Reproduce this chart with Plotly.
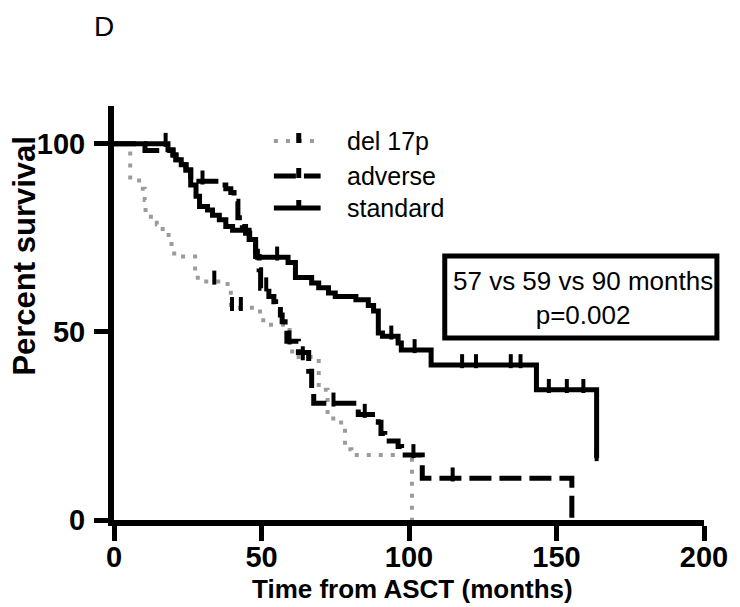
import numpy as np
import plotly.graph_objects as go

# ---------------- data ----------------
del17p_t = [0, 5.5, 8.5, 10.4, 10.7, 12.5, 14.5, 16.5, 18.5, 19.5, 20.4, 27.5, 28.4,
            38.5, 39.6, 49.5, 50.6, 59.5, 60.4, 69.4, 72.4, 75.2, 78.3, 80.5, 101]
del17p_s = [100, 91, 88, 85, 81.7, 80, 78.5, 76.7, 75, 72.7, 70, 66, 63.4,
            62, 56.4, 54.3, 51.9, 46.1, 43.3, 34.6, 27, 25.9, 18.8, 17.3, 0]
del17p_cens = [34, 40, 43, 64]

adverse_t = [0, 10.5, 20, 21, 22.8, 24.4, 26, 35.7, 37.9, 39.6, 40.7, 42, 43.5, 44.6,
             46, 48, 49.2, 49.7, 52.5, 54.2, 54.8, 56.4, 57, 58, 58.6, 62.5, 66, 67,
             67.7, 82.8, 89.6, 90.5, 91.8, 96.3, 97.5, 104.5, 155.2]
adverse_s = [100, 98.2, 97, 95.7, 94.4, 93, 90, 89, 88, 87, 84.7, 80.3, 78, 76.2,
             73.6, 70, 66.5, 61.6, 59.4, 58, 55.9, 54.5, 52.7, 51, 47.5, 44.5, 39.5, 34.6,
             31, 28, 26, 23, 21, 19.5, 17.3, 11.1, 0]
adverse_cens = [30, 51.6, 59.5, 74.4, 85, 101.5, 114.8]

standard_t = [0, 18.3, 20, 21, 22.8, 24.4, 26, 27.8, 29, 31.7, 33.4, 35.7, 37.9, 40.2,
              45.8, 48, 48.6, 59, 61.5, 67, 69.4, 72.7, 75, 82, 86.2, 88, 89.6, 91,
              96.3, 97.4, 107.5, 143.2, 163.6]
standard_s = [100, 98.4, 97, 95.7, 94.4, 93, 89, 86, 83.3, 82.4, 81, 79.8, 78, 77,
              74.5, 71.4, 69.8, 68.4, 64.4, 63, 61.7, 60.3, 59.4, 58.5, 57, 55.5, 49.7, 48.8,
              47, 45.2, 41.2, 34.6, 16.5]
standard_cens = [17.5, 55.3, 94, 101.9, 118, 122.7, 134.5, 137.8, 147.4, 153.5, 159.1, 163.6]

group_names = ["del 17p", "adverse", "standard"]
x_ticks = [0, 50, 100, 150, 200]
y_ticks = [0, 50, 100]
stats_text = "57 vs 59 vs 90 months<br>p=0.002"
panel_label = "D"
x_title = "Time from ASCT (months)"
y_title = "Percent survival"

FONT = "Liberation Sans, Arial, Helvetica, sans-serif"
GRAY = "#9b9b9b"

def surv_at(ts, ss, t):
    i = np.searchsorted(np.asarray(ts), t, side="right") - 1
    return ss[max(i, 0)]

styles = [(GRAY, "4px,8px", 4), ("black", "22px,8px", 5), ("black", "solid", 5)]
series = [(del17p_t, del17p_s, del17p_cens), (adverse_t, adverse_s, adverse_cens),
          (standard_t, standard_s, standard_cens)]

fig = go.Figure()
for (ts, ss, cens), (col, dash, w) in zip(series, styles):
    fig.add_trace(go.Scatter(x=ts, y=ss, mode="lines", line=dict(shape="hv", color=col, width=w, dash=dash),
                             showlegend=False, hoverinfo="skip"))
    cy = [surv_at(ts, ss, c) + 1.0 for c in cens]
    fig.add_trace(go.Scatter(x=cens, y=cy, mode="markers", showlegend=False, hoverinfo="skip",
                             marker=dict(symbol="line-ns", size=10, line=dict(color="black", width=4))))

# ---------------- layout geometry (window pixels, body has an 8px margin) ----------------
OFF = 8
L, T = 114 - OFF, 106 - OFF          # plot area left/top inside figure
PW, PH = 594, 414
W, H = 732, 599
R, B = W - L - PW, H - T - PH
wx = lambda x: (x - OFF - L) / PW
wy = lambda y: (T + PH - (y - OFF)) / PH

axis_common = dict(showgrid=False, zeroline=False, showline=True, linecolor="black", linewidth=6,
                   ticks="outside", tickwidth=5, tickcolor="black",
                   tickfont=dict(family=FONT, size=29, color="black", weight="bold"))
fig.update_xaxes(range=[0, 200], tickvals=x_ticks, ticklen=15, ticklabelstandoff=-9, **axis_common)
fig.update_yaxes(range=[0, 110], tickvals=y_ticks, ticklen=14, ticklabelstandoff=3, **axis_common)

shapes = [dict(type="rect", xref="paper", yref="paper", x0=wx(447), x1=wx(721), y0=wy(338), y1=wy(256),
               line=dict(color="black", width=5))]
annotations = [
    dict(text=stats_text, xref="paper", yref="paper", x=wx(586), y=wy(298), xanchor="center", yanchor="middle",
         showarrow=False, font=dict(family=FONT, size=26, color="black"), align="center"),
    dict(text=panel_label, xref="paper", yref="paper", x=wx(104), y=wy(26), xanchor="center", yanchor="middle",
         showarrow=False, font=dict(family=FONT, size=28, color="black")),
    dict(text="<b>%s</b>" % y_title, xref="paper", yref="paper", x=wx(23), y=wy(256), textangle=-90,
         xanchor="center", yanchor="middle", showarrow=False, font=dict(family=FONT, size=31, color="black")),
    dict(text="<b>%s</b>" % x_title, xref="paper", yref="paper", x=wx(415), y=wy(589),
         xanchor="center", yanchor="middle", showarrow=False, font=dict(family=FONT, size=26, color="black")),
]

# manual legend (sample line + censor tick + label)
leg_rows = [141, 176, 208]
for name, (col, dash, w), yr in zip(group_names, styles, leg_rows):
    shapes.append(dict(type="line", xref="paper", yref="paper", x0=wx(275), x1=wx(322), y0=wy(yr), y1=wy(yr),
                       line=dict(color=col, width=w, dash=dash)))
    shapes.append(dict(type="line", xref="paper", yref="paper", x0=wx(300), x1=wx(300), y0=wy(yr + 2),
                       y1=wy(yr - 8), line=dict(color="black", width=5)))
    annotations.append(dict(text=name, xref="paper", yref="paper", x=wx(347), y=wy(yr), xanchor="left",
                            yanchor="middle", showarrow=False, font=dict(family=FONT, size=25, color="black")))

fig.update_layout(
    width=W, height=H, margin=dict(l=L, r=R, t=T, b=B, pad=0),
    paper_bgcolor="white", plot_bgcolor="white",
    font=dict(family=FONT, color="black"),
    showlegend=False,
    shapes=shapes, annotations=annotations,
)

fig.write_html("out.html")
